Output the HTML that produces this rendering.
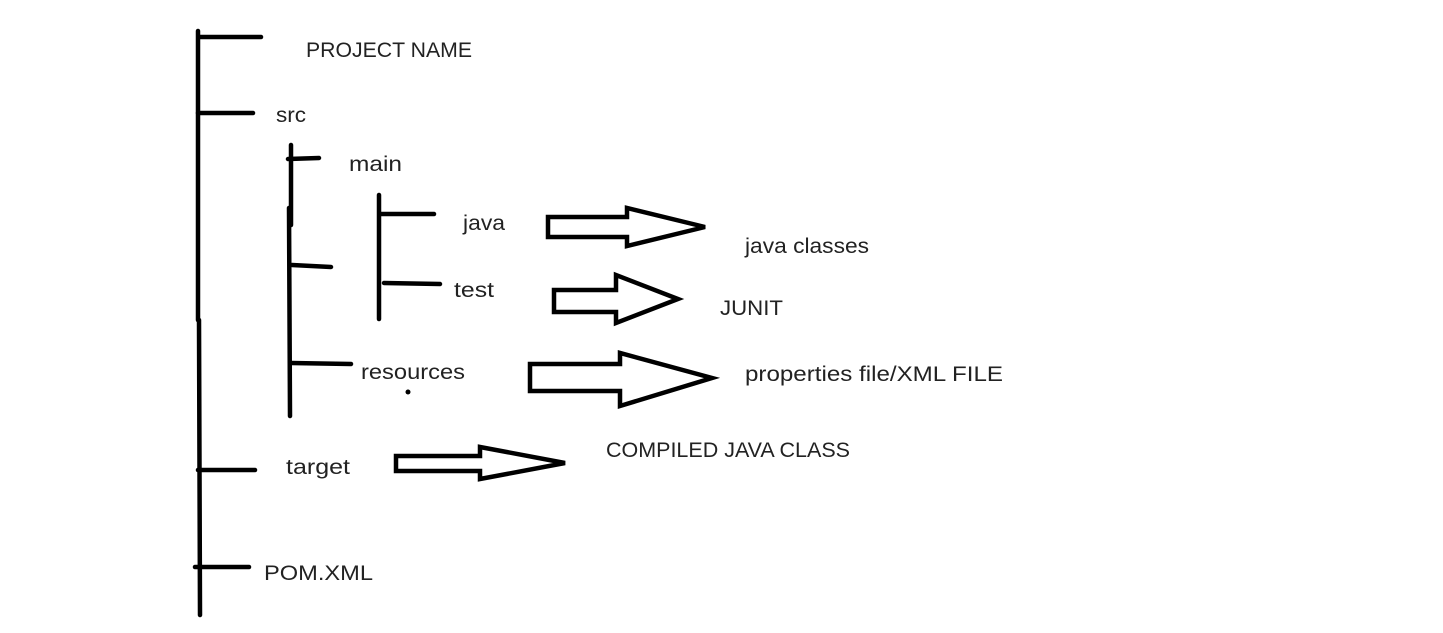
<!DOCTYPE html>
<html><head><meta charset="utf-8"><style>
html,body{margin:0;padding:0;background:#fff;}
svg{display:block}
text{font-family:"Liberation Sans",sans-serif;font-size:21px;fill:#222;}
</style></head><body>
<svg width="1443" height="633" viewBox="0 0 1443 633">
<g stroke="#000" stroke-width="4.5" stroke-linecap="round" fill="none">
<line x1="198" y1="31" x2="198" y2="320"/>
<line x1="199" y1="320" x2="200" y2="615"/>
<line x1="200" y1="37" x2="261" y2="37"/>
<line x1="198" y1="113" x2="253" y2="113"/>
<line x1="291" y1="145" x2="291" y2="225"/>
<line x1="289" y1="208" x2="290" y2="416"/>
<line x1="288" y1="159" x2="319" y2="158"/>
<line x1="292" y1="265" x2="331" y2="267"/>
<line x1="291" y1="363" x2="351" y2="364"/>
<line x1="379" y1="195" x2="379" y2="319"/>
<line x1="381" y1="214" x2="434" y2="214"/>
<line x1="384" y1="283" x2="440" y2="284"/>
<line x1="198" y1="470" x2="255" y2="470"/>
<line x1="195" y1="567" x2="249" y2="567"/>
<polygon points="548,217 627,217 627,208 705,227 627,246 627,237 548,237"/>
<polygon points="554,290 616,290 616,275 678,299 616,323 616,312 554,312"/>
<polygon points="530,364 620,364 620,353 712,378 620,406 620,391 530,391"/>
<polygon points="396,456 480,456 480,447 565,463 480,479 480,471 396,471"/>
</g>
<circle cx="408" cy="392" r="2.5" fill="#000"/>
<text x="306" y="57" textLength="166" lengthAdjust="spacingAndGlyphs">PROJECT NAME</text>
<text x="276" y="122" textLength="30" lengthAdjust="spacingAndGlyphs">src</text>
<text x="349" y="171" textLength="53" lengthAdjust="spacingAndGlyphs">main</text>
<text x="463" y="230" textLength="42" lengthAdjust="spacingAndGlyphs">java</text>
<text x="454" y="297" textLength="40" lengthAdjust="spacingAndGlyphs">test</text>
<text x="361" y="379" textLength="104" lengthAdjust="spacingAndGlyphs">resources</text>
<text x="745" y="253" textLength="124" lengthAdjust="spacingAndGlyphs">java classes</text>
<text x="720" y="315" textLength="63" lengthAdjust="spacingAndGlyphs">JUNIT</text>
<text x="745" y="381" textLength="258" lengthAdjust="spacingAndGlyphs">properties file/XML FILE</text>
<text x="606" y="457" textLength="244" lengthAdjust="spacingAndGlyphs">COMPILED JAVA CLASS</text>
<text x="286" y="474" textLength="64" lengthAdjust="spacingAndGlyphs">target</text>
<text x="264" y="580" textLength="109" lengthAdjust="spacingAndGlyphs">POM.XML</text>
</svg>
</body></html>
